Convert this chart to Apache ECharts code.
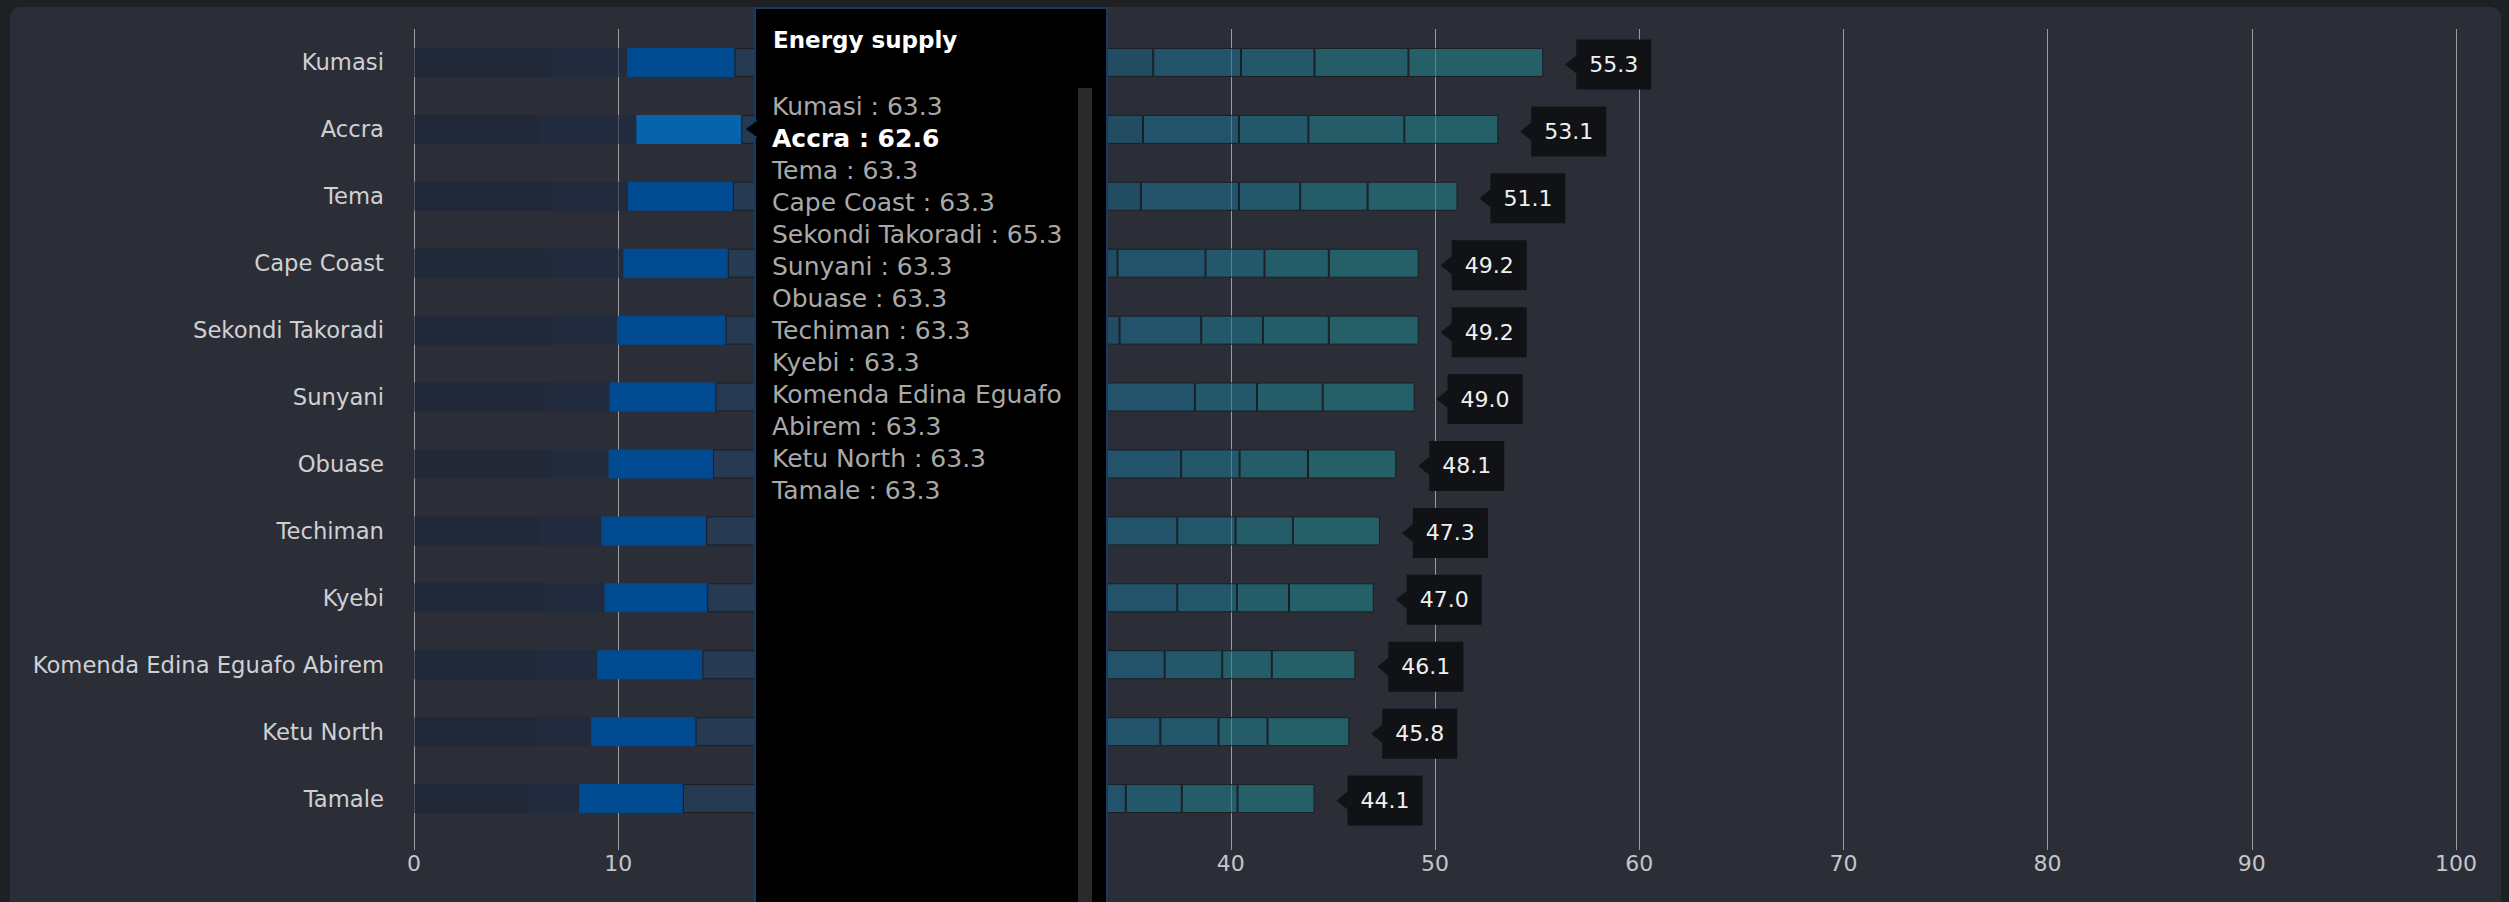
<!DOCTYPE html>
<html>
<head>
<meta charset="utf-8">
<script src="https://cdn.jsdelivr.net/npm/echarts@6/dist/echarts.min.js"></script>
<style>
  html, body { margin: 0; padding: 0; background: #1f2024; overflow: hidden; }
  #panel { position: absolute; left: 10px; top: 7px; width: 2491px; height: 910px; background: #2b2e36; border-radius: 10px; }
  #chart { position: absolute; left: 0; top: 0; width: 2509px; height: 902px; }
</style>
</head>
<body>
<div id="panel"></div>
<div id="chart"></div>
<script>
// ---------------- data ----------------
const cities = ['Kumasi', 'Accra', 'Tema', 'Cape Coast', 'Sekondi Takoradi', 'Sunyani', 'Obuase',
  'Techiman', 'Kyebi', 'Komenda Edina Eguafo Abirem', 'Ketu North', 'Tamale'];

// weighted contribution of each indicator (stack segments, left to right)
const seg1 = [6.65, 6.07, 6.65, 6.65, 6.80, 6.40, 6.65, 6.07, 6.40, 5.99, 5.99, 5.50];
const seg2 = [3.78, 4.82, 3.83, 3.60, 3.14, 3.18, 2.88, 3.10, 2.93, 2.98, 2.69, 2.58];
const energySupply = [5.27, 5.14, 5.14, 5.12, 5.32, 5.19, 5.11, 5.14, 5.03, 5.15, 5.11, 5.09];
const seg4 = [4.6, 4.5, 4.4, 4.2, 4.3, 4.1, 4.0, 4.1, 4.0, 4.0, 4.0, 3.8];
const seg5 = [3.9, 3.7, 3.8, 3.7, 3.8, 3.6, 3.6, 3.6, 3.7, 3.5, 3.6, 3.4];
const seg6 = [4.3, 4.1, 4.0, 3.9, 3.9, 3.9, 3.8, 3.8, 3.8, 3.8, 3.8, 3.6];
const seg7 = [3.8, 3.6, 3.9, 3.6, 3.6, 3.5, 3.5, 3.5, 3.5, 3.4, 3.4, 3.2];
const seg8 = [3.9, 3.77, 3.88, 3.68, 3.69, 3.73, 3.66, 3.69, 3.64, 3.68, 3.71, 3.43];
const seg9 = [4.3, 4.7, 4.8, 4.31, 4.0, 4.64, 4.37, 4.38, 4.38, 4.26, 4.25, 4.26];
const seg10 = [3.6, 3.4, 3.0, 2.89, 3.02, 3.04, 2.86, 2.85, 2.92, 2.82, 2.85, 2.74];
const seg11 = [4.6, 4.7, 3.3, 3.15, 3.23, 3.22, 3.35, 2.81, 2.55, 2.43, 2.4, 2.73];
const seg12 = [6.6, 4.6, 4.4, 4.4, 4.4, 4.5, 4.32, 4.26, 4.15, 4.09, 4.0, 3.77];

// overall score per city (label at bar end)
const totals = [55.3, 53.1, 51.1, 49.2, 49.2, 49.0, 48.1, 47.3, 47.0, 46.1, 45.8, 44.1];

// tooltip: Energy supply raw scores
const tooltipTitle = 'Energy supply';
const energyScores = [63.3, 62.6, 63.3, 63.3, 65.3, 63.3, 63.3, 63.3, 63.3, 63.3, 63.3, 63.3];
const hoveredCity = 'Accra';

const xTickMin = 0, xTickMax = 100, xTickStep = 10;

// ---------------- chart ----------------
const FONT = 'DejaVu Sans';
const chart = echarts.init(document.getElementById('chart'), null, { renderer: 'svg' });

const segDefs = [
  { name: 'Indicator 1', data: seg1, color: 'rgba(27,37,58,0.6)', noBorder: true },
  { name: 'Indicator 2', data: seg2, color: 'rgba(28,42,66,0.6)', noBorder: true },
  { name: 'Energy supply', data: energySupply, color: '#004a91', noBorder: true },
  { name: 'Indicator 4', data: seg4, color: 'rgba(35,66,101,0.6)' },
  { name: 'Indicator 5', data: seg5, color: 'rgba(31,71,109,0.6)' },
  { name: 'Indicator 6', data: seg6, color: 'rgba(30,78,114,0.6)' },
  { name: 'Indicator 7', data: seg7, color: 'rgba(28,86,121,0.6)' },
  { name: 'Indicator 8', data: seg8, color: 'rgba(26,96,127,0.6)' },
  { name: 'Indicator 9', data: seg9, color: 'rgba(28,108,141,0.6)' },
  { name: 'Indicator 10', data: seg10, color: 'rgba(30,116,141,0.6)' },
  { name: 'Indicator 11', data: seg11, color: 'rgba(31,123,139,0.6)' },
  { name: 'Indicator 12', data: seg12, color: 'rgba(33,129,136,0.6)' }
];

const hoverIdx = cities.indexOf(hoveredCity);

const barSeries = segDefs.map(d => ({
  type: 'bar',
  name: d.name,
  stack: 'score',
  barWidth: 29,
  silent: true,
  itemStyle: d.noBorder
    ? { color: d.color }
    : { color: d.color, borderColor: 'rgba(26,28,34,0.9)', borderWidth: 1 },
  data: d.data.map((v, i) => (d.name === tooltipTitle && i === hoverIdx)
    ? { value: v, itemStyle: { color: '#0663ac' } }
    : v)
}));

const labelSeries = {
  type: 'custom',
  name: 'Total',
  silent: true,
  z: 5,
  encode: { x: 0, y: 1 },
  data: totals.map((t, i) => [t, i]),
  renderItem: function (params, api) {
    const p = api.coord([api.value(0), api.value(1)]);
    const tip = p[0] + 22;
    const cy = p[1] + 2;
    const bx = tip + 11, bw = 75, bh = 50;
    const pts = [[tip, cy], [bx, cy - 9], [bx, cy - bh / 2], [bx + bw, cy - bh / 2],
      [bx + bw, cy + bh / 2], [bx, cy + bh / 2], [bx, cy + 9]];
    return {
      type: 'group',
      children: [
        { type: 'polygon', shape: { points: pts }, style: { fill: '#111215' } },
        {
          type: 'text',
          style: {
            text: api.value(0).toFixed(1), x: bx + bw / 2, y: cy,
            align: 'center', verticalAlign: 'middle',
            fill: '#f0f0f0', font: '22px "' + FONT + '"'
          }
        }
      ]
    };
  }
};

const option = {
  animation: false,
  backgroundColor: 'transparent',
  textStyle: { fontFamily: FONT },
  grid: { left: 414, right: 53, top: 29, bottom: 70, containLabel: false },
  xAxis: {
    type: 'value',
    min: xTickMin, max: xTickMax, interval: xTickStep,
    axisLine: { show: false },
    axisTick: { show: true, length: 18, lineStyle: { color: '#9a9ca1', width: 1 } },
    splitLine: { show: true, lineStyle: { color: '#9a9ca1', width: 1 } },
    axisLabel: { color: '#c4c6ca', fontSize: 22, fontFamily: FONT, margin: 20 }
  },
  yAxis: {
    type: 'category',
    inverse: true,
    data: cities,
    axisLine: { show: false },
    axisTick: { show: false },
    splitLine: { show: false },
    axisLabel: { color: '#cfd0d3', fontSize: 22.7, fontFamily: FONT, margin: 30 }
  },
  series: barSeries.concat([labelSeries])
};

chart.setOption(option);

// ---------------- tooltip (hover state on Accra / Energy supply) ----------------
function tooltipGraphic() {
  const endVal = seg1[hoverIdx] + seg2[hoverIdx] + energySupply[hoverIdx];
  const p = chart.convertToPixel({ xAxisIndex: 0, yAxisIndex: 0 }, [endVal, hoverIdx]);
  const left = Math.round(p[0]) + 14;
  const cy = Math.round(p[1]);
  const top = 8, w = 352, h = 1000;
  const LH = 32, textW = 300;
  const els = [
    {
      type: 'rect', z: 100, silent: true,
      shape: { x: left, y: top, width: w, height: h },
      style: { fill: '#000000', stroke: '#163a63', lineWidth: 2 }
    },
    {
      type: 'polygon', z: 101, silent: true,
      shape: { points: [[left - 10, cy], [left + 1, cy - 8], [left + 1, cy + 8]] },
      style: { fill: '#000000', stroke: '#163a63', lineWidth: 1.5 }
    },
    {
      type: 'rect', z: 102, silent: true,
      shape: { x: left - 0.5, y: cy - 7, width: 3, height: 14 },
      style: { fill: '#000000' }
    },
    {
      type: 'rect', z: 101, silent: true,
      shape: { x: left + 323, y: 88, width: 14, height: 900 },
      style: { fill: '#2a2a2d' }
    },
    {
      type: 'text', z: 103, silent: true,
      style: {
        x: left + 18, y: 40, text: tooltipTitle, verticalAlign: 'middle',
        fill: '#ffffff', font: 'bold 23px "' + FONT + '"'
      }
    }
  ];
  let y = 90;
  cities.forEach((c, i) => {
    const bold = i === hoverIdx;
    const style = {
      x: left + 17, y: y, text: c + ' : ' + energyScores[i].toFixed(1),
      width: textW, overflow: 'break', lineHeight: LH, verticalAlign: 'top',
      fill: bold ? '#ffffff' : '#a9a9a9',
      font: (bold ? 'bold ' : '') + '25px "' + FONT + '"'
    };
    const probe = new echarts.graphic.Text({ style: Object.assign({}, style) });
    const nLines = Math.max(1, Math.round(probe.getBoundingRect().height / LH));
    els.push({ type: 'text', z: 103, silent: true, style: style });
    y += nLines * LH;
  });
  return els;
}

chart.setOption({ graphic: { elements: tooltipGraphic() } });
</script>
</body>
</html>
